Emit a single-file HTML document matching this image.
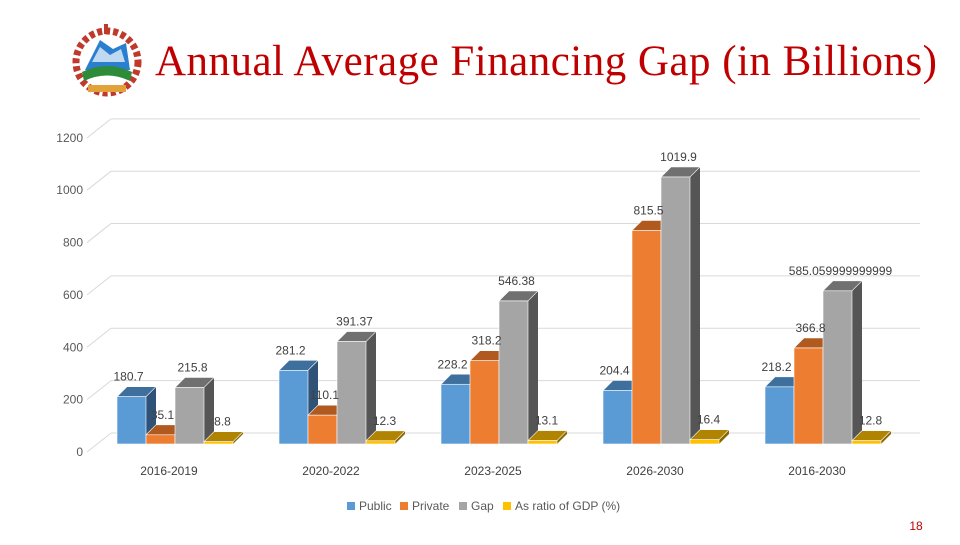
<!DOCTYPE html>
<html><head><meta charset="utf-8"><style>
body{margin:0;background:#fff;width:960px;height:540px;overflow:hidden}
svg text{font-family:"Liberation Sans",sans-serif}
</style></head><body>
<svg id="c" width="960" height="540" xmlns="http://www.w3.org/2000/svg">
<g>
<circle cx="107" cy="62" r="31" fill="none" stroke="#c0392b" stroke-width="7" stroke-dasharray="5 3"/>
<polygon points="85,70 100,40 113,49 126,43 130,70" fill="#2a7fd0"/>
<polygon points="92,62 100,47 110,55 121,49 125,62" fill="#fff" opacity=".7"/>
<path d="M82,72 Q107,60 132,72 L130,81 Q107,70 84,81Z" fill="#2e8b3a"/>
<rect x="88" y="85" width="38" height="7" fill="#e2a23a"/>
<rect x="104" y="24" width="4" height="10" fill="#c0392b"/>
</g>
<text x="546" y="75" text-anchor="middle" font-size="43" fill="#c00000" style="font-family:'Liberation Serif',serif" textLength="782">Annual Average Financing Gap (in Billions)</text>
<g id="grid"></g><g id="bars"></g><g id="labels"></g>
<g font-size="12" fill="#595959">
<rect x="347" y="502" width="8" height="8" fill="#5b9bd5"/><text x="359" y="510">Public</text>
<rect x="400" y="502" width="8" height="8" fill="#ed7d31"/><text x="412" y="510">Private</text>
<rect x="459" y="502" width="8" height="8" fill="#a5a5a5"/><text x="471" y="510">Gap</text>
<rect x="503" y="502" width="8" height="8" fill="#ffc000"/><text x="515" y="510">As ratio of GDP (%)</text>
</g>
<text x="916" y="530" text-anchor="middle" font-size="12" fill="#c00000">18</text>
</svg>
<script>
const categories=["2016-2019","2020-2022","2023-2025","2026-2030","2016-2030"];
const publicVals=[180.7,281.2,228.2,204.4,218.2];
const privateVals=[35.1,110.1,318.2,815.5,366.8];
const gapVals=[215.8,391.37,546.38,1019.9,585.059999999999];
const ratioVals=[8.8,12.3,13.1,16.4,12.8];
const yTicks=[0,200,400,600,800,1000,1200];
const NS="http://www.w3.org/2000/svg";
function mk(t,a,p){const e=document.createElementNS(NS,t);for(const k in a)e.setAttribute(k,a[k]);p.appendChild(e);return e;}
const base=444,sc=0.2618,dx=10,dy=-10;
const y=v=>base-v*sc;
const gx=i=>117+i*162;
const grid=document.getElementById('grid'),bars=document.getElementById('bars'),labels=document.getElementById('labels');
yTicks.forEach(t=>{
 const yy=y(t);
 const l=mk('line',{x1:111,x2:920,y1:yy-11,y2:yy-11,stroke:'#d9d9d9'},grid);
 
 
 mk('line',{x1:87,x2:111,y1:yy+8,y2:yy-11,stroke:'#d9d9d9'},grid);
 const tx=mk('text',{x:83,y:yy+12,'text-anchor':'end','font-size':12,fill:'#595959'},grid);
 tx.textContent=t;
 
 
});
const series=[
 {v:publicVals,f:'#5b9bd5',t:'#3f6f9c',s:'#2f5378',n:'public',ox:-3},
 {v:privateVals,f:'#ed7d31',t:'#b05a20',s:'#8a4516',n:'private',ox:2},
 {v:gapVals,f:'#a5a5a5',t:'#707070',s:'#555555',n:'gap',ox:3},
 {v:ratioVals,f:'#ffc000',t:'#b08400',s:'#8a6800',n:'ratio',ox:4}];
const W=29;
categories.forEach((c,i)=>{
 const ct=mk('text',{x:gx(i)+52,y:475,'text-anchor':'middle','font-size':12,fill:'#404040'},labels);
 ct.textContent=c;
 
 
 series.forEach((s,j)=>{
  const x0=gx(i)+j*W,v=s.v[i],top=y(v);
  const g=mk('g',{},bars);
  
  
  mk('polygon',{points:`${x0+W},${top} ${x0+W+dx},${top+dy} ${x0+W+dx},${base+dy} ${x0+W},${base}`,fill:s.s},g);
  mk('polygon',{points:`${x0},${top} ${x0+dx},${top+dy} ${x0+W+dx},${top+dy} ${x0+W},${top}`,fill:s.t,stroke:'#fff','stroke-width':0.6},g);
  mk('rect',{x:x0,y:top,width:W,height:base-top,fill:s.f,stroke:'#fff','stroke-width':0.6},g);
  const lt=mk('text',{x:x0+W/2+s.ox,y:top-16,'text-anchor':'middle','font-size':12,fill:'#404040'},labels);
  lt.textContent=String(v);
  
  
 });
});
</script>
</body></html>
